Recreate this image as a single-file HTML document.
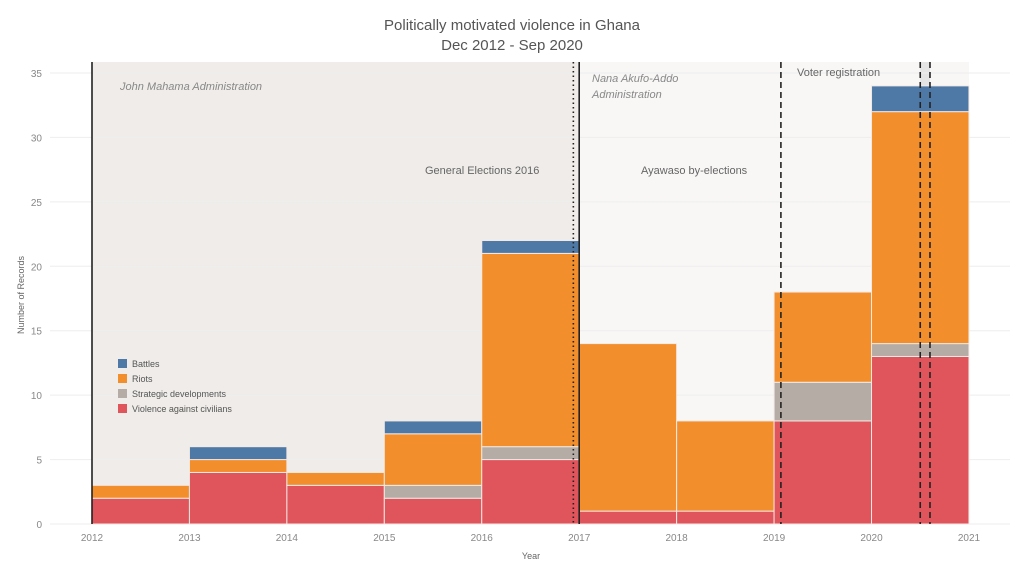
<!DOCTYPE html>
<html><head><meta charset="utf-8"><style>
body{margin:0;background:#fff;font-family:"Liberation Sans",sans-serif}
svg text{font-family:"Liberation Sans",sans-serif}
</style></head><body>
<svg id="c" width="1024" height="576" xmlns="http://www.w3.org/2000/svg">
<text x="512" y="30" text-anchor="middle" font-size="15" fill="#555">Politically motivated violence in Ghana</text>
<text x="512" y="50" text-anchor="middle" font-size="15" fill="#555">Dec 2012 - Sep 2020</text>
<g id="plot"></g>
</svg>
<script>
const years=[2012,2013,2014,2015,2016,2017,2018,2019,2020];
const violence=[2,4,3,2,5,1,1,8,13];
const strategic=[0,0,0,1,1,0,0,3,1];
const riots=[1,1,1,4,15,13,7,7,18];
const battles=[0,1,0,1,1,0,0,0,2];
const yTicks=[0,5,10,15,20,25,30,35];
const xTicks=[2012,2013,2014,2015,2016,2017,2018,2019,2020,2021];
const events=[{t:2016.94,s:'1.5 3'},{t:2019.07,s:'6 4'},{t:2020.5,s:'6 4'},{t:2020.6,s:'6 4'}];
const X=v=>92+(v-2012)*97.44, Y=v=>524-v*12.886;
const g=document.getElementById('plot');const NS='http://www.w3.org/2000/svg';
function mk(t,a,p){const e=document.createElementNS(NS,t);for(const k in a)e.setAttribute(k,a[k]);(p||g).appendChild(e);return e;}
let r;
r=mk('rect',{x:X(2012),y:62,width:X(2017)-X(2012),height:462,fill:'#efece9'});


r=mk('rect',{x:X(2017),y:62,width:X(2021)-X(2017),height:462,fill:'#f8f7f6'});


r=mk('rect',{x:X(2020.5),y:62,width:X(2020.6)-X(2020.5),height:462,fill:'#e4e4e4'});


yTicks.forEach(v=>{
 const l=mk('line',{x1:50,x2:1010,y1:Y(v),y2:Y(v),stroke:'#eeeeee'});
 
 
 const t=mk('text',{x:42,y:Y(v)+4,'text-anchor':'end','font-size':10,fill:'#888'});t.textContent=v;
 
 
});
xTicks.forEach(v=>{
 const t=mk('text',{x:X(v),y:541,'text-anchor':'middle','font-size':10,fill:'#888'});t.textContent=v;
 
 
});
const series=[[violence,'#e0545b','violence'],[strategic,'#b5aca6','strategic'],[riots,'#f28e2c','riots'],[battles,'#4e79a7','battles']];
years.forEach((yr,i)=>{
 let base=0;
 series.forEach(([arr,col,nm])=>{
  const v=arr[i]; if(!v)return;
  const b=mk('rect',{x:X(yr),y:Y(base+v),width:X(yr+1)-X(yr),height:Y(base)-Y(base+v),fill:col,stroke:'#f3e9e4','stroke-width':1});
  
  
  base+=v;
 });
});
[2012,2017].forEach(v=>{const l=mk('line',{x1:X(v),x2:X(v),y1:62,y2:524,stroke:'#222','stroke-width':1.6});
 
 });
events.forEach(e=>{const l=mk('line',{x1:X(e.t),x2:X(e.t),y1:62,y2:524,stroke:'#222','stroke-width':1.6,'stroke-dasharray':e.s});
 
 });
function txt(s,x,y,o,name){const t=mk('text',Object.assign({x:x,y:y,'font-size':11,fill:'#666'},o||{}));t.textContent=s;
 
 return t;}
txt('John Mahama Administration',120,90,{'font-style':'italic',fill:'#888'},'mahama-annotation');
txt('Nana Akufo-Addo',592,82,{'font-style':'italic',fill:'#888'},'akufo-addo-annotation');
txt('Administration',592,98,{'font-style':'italic',fill:'#888'},'akufo-addo-annotation-2');
txt('General Elections 2016',425,174,{},'elections-annotation');
txt('Ayawaso by-elections',641,174,{},'ayawaso-annotation');
txt('Voter registration',797,76,{},'voter-registration-annotation');
txt('Year',531,559,{'font-size':9,'text-anchor':'middle'},'x-axis-title');
const yt=txt('Number of Records',24,295,{'font-size':9,'text-anchor':'middle',transform:'rotate(-90 24 295)'},'y-axis-title');
const leg=[['Battles','#4e79a7'],['Riots','#f28e2c'],['Strategic developments','#b5aca6'],['Violence against civilians','#e0545b']];
leg.forEach((l,i)=>{const y=363+i*15;
 const s=mk('rect',{x:118,y:y-4,width:9,height:9,fill:l[1]});
 
 
 txt(l[0],132,y+4,{'font-size':9,fill:'#555'},'legend-entry');});
</script>
</body></html>
